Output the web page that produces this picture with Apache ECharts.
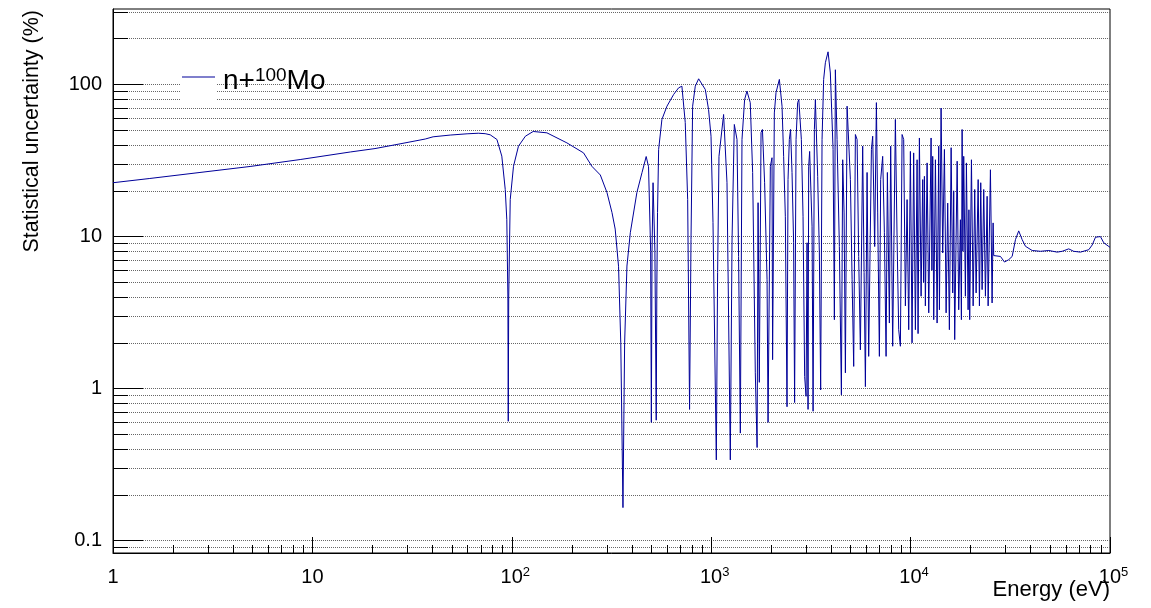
<!DOCTYPE html>
<html>
<head>
<meta charset="utf-8">
<script src="https://cdn.jsdelivr.net/npm/echarts@6/dist/echarts.min.js"></script>
<style>
  html, body { margin: 0; padding: 0; background: #fff; }
  #chart { width: 1151px; height: 608px; }
</style>
</head>
<body>
<div id="chart"></div>
<script>
// ---- data ----
const energies = [
  1, 1.53, 2.73, 4.87, 8.68, 15.5, 20.6, 27.5, 36.8, 40.3, 49.1, 59.7, 67.9, 73.5, 77.9, 84.2, 89.1, 92.7, 94.4, 95.6, 96.0, 96.5, 98.2,
  102, 108, 117, 128, 150, 189, 229, 252, 278, 300, 318, 330, 343, 352, 361, 368, 378, 393, 424, 450, 472, 485, 497, 501, 505,
  511, 522, 530, 534, 538, 545, 566, 600, 648, 686, 713, 741, 762, 779, 792, 807, 832, 865, 934, 970, 998,
  1021, 1061, 1077, 1094, 1154, 1200, 1247, 1272, 1306, 1347, 1372, 1400, 1427, 1471, 1511, 1570, 1614, 1664,
  1699, 1718, 1743, 1778, 1807, 1853, 1906, 1928, 1980, 2018, 2032, 2073, 2114, 2197, 2266, 2308, 2354, 2400,
  2428, 2465, 2500, 2543, 2590, 2620, 2664, 2713, 2750, 2832, 2888, 2942, 2990, 3025, 3060, 3082, 3117, 3205,
  3243, 3292, 3330, 3420, 3487, 3540, 3597, 3664, 3737, 3855, 3959, 4085, 4147, 4195, 4278, 4393, 4497, 4565,
  4639, 4710, 4803, 4859, 4989, 5089, 5183, 5285, 5390, 5491, 5600, 5750, 5844, 5933, 6050, 6163, 6360, 6455,
  6605, 6737, 6839, 6974, 7079, 7244, 7388, 7535, 7648, 7827, 7945, 8131, 8389, 8557, 8716, 8888, 9064, 9234,
  9341, 9417, 9603, 9784, 9977, 10170, 10360, 10570, 10780, 10900, 11070, 11290, 11500, 11620, 11730, 11860,
  12100, 12330, 12670, 12790, 12910, 13060, 13320, 13580, 13840, 13950, 14220, 14490, 14780, 15070, 15350,
  15650, 15970, 16260, 16450, 16640, 17120, 17430, 17780, 17980, 18130, 18290, 18470, 18830, 19050, 19430,
  19610, 19790, 20190, 20590, 20970, 21310, 21820, 22140, 22480, 22840, 23270, 23730, 24200, 24480, 25140,
  25630, 25930, 26110, 28230, 29560, 31060, 32310, 33570, 34850, 36260, 37670, 40700, 44810, 49320, 54330,
  57540, 62090, 65770, 71090, 78290, 81400, 84570, 89540, 93060, 98670, 100000
];
const uncertainties = [
  22.6, 24.1, 26.4, 28.9, 32.1, 36, 37.9, 40.7, 43.8, 45.3, 46.5, 47.4, 47.8, 47.5, 46.7, 43.5, 33.8, 20.4, 12.9, 4, 0.61, 4, 17.5,
  29, 39.3, 45.7, 49.1, 48.1, 41.3, 35.5, 29.0, 25.4, 19.5, 14.4, 11.2, 6.38, 2, 0.165, 2, 6.4, 10.6, 19.5, 26.4, 33.6, 28.8, 8, 0.6, 8,
  22.6, 8, 0.62, 5, 14.4, 37.4, 58.9, 72, 86, 95, 97.5, 56.3, 17.5, 0.73, 9.55, 72, 97.5, 109, 92.7, 68.5, 45.7,
  12.4, 0.34, 5.8, 33.7, 63.5, 22.6, 0.34, 9.5, 54.6, 43.5, 7.4, 0.51, 43.5, 79.6, 90.4, 76, 26.4, 1.27,
  0.41, 16.7, 1.1, 48.3, 50.6, 22.6, 5.2, 0.6, 29, 33, 1.55, 65, 88.6, 108, 72, 33.7, 13.6, 0.76,
  23.7, 43.5, 50.6, 26.4, 9.1, 0.81, 43.5, 76, 79.6, 43.5, 13.6, 1.2, 0.89, 9.1, 0.73, 29, 36.3, 11.7,
  0.71, 50.6, 79.6, 24.9, 7.8, 0.98, 43.5, 108, 139, 164, 119, 37.4, 2.84, 125, 43.5, 8.6, 0.91, 32,
  14.3, 1.27, 72, 74, 23.7, 5.2, 1.4, 46.9, 43.5, 7.4, 1.8, 39.3, 5.8, 1.03, 26.4, 1.63, 37.4, 45.7,
  8.6, 76, 14.3, 1.63, 23.7, 33.7, 10.6, 1.63, 26.4, 2.7, 39.3, 1.9, 58.9, 9.5, 2.44, 1.9, 46.9, 43.5,
  9.5, 3.5, 17.5, 2.44, 36.3, 2.0, 35.5, 2.44, 32, 2.3, 44.5, 4.05, 23.7, 5, 24.9, 3.5,
  30.5, 3.15, 44.5, 6, 33.7, 2.84, 32, 2.7, 39.3, 3.3, 70, 7.8, 37.4, 3.15, 16.6,
  2.44, 38.4, 4.26, 20, 2.1, 31.3, 3.3, 12.9, 2.84, 50.6, 8, 33.7, 4.05, 30.5, 3.3,
  15, 2.84, 32, 3.5, 20.4, 4.26, 23.7, 3.5, 22.6, 4.48, 20.4, 4.05, 18.4, 3.5, 27.5,
  3.66, 12.3, 7.5, 7.4, 6.8, 7.05, 7.4, 9.55, 10.9, 9.55, 8.63, 8.1, 8.0, 8.1, 7.9,
  8.0, 8.3, 8.0, 7.9, 8.2, 8.8, 9.9, 10.0, 9.1, 8.6, 8.5
];
const seriesName = 'n+100Mo';
const legendParts = ['n+', '100', 'Mo'];

const xMajorTicks = [1, 10, 100, 1000, 10000, 100000];
const xTickBase = ['1', '10', '10', '10', '10', '10'];
const xTickExp = ['', '', '2', '3', '4', '5'];
const xMinorMultipliers = [2, 3, 4, 5, 6, 7, 8, 9];
const xMinorDecades = [1, 10, 100, 1000, 10000];

const yMajorTicks = [0.1, 1, 10, 100];
const yTickLabels = ['0.1', '1', '10', '100'];
const yGridTicks = [0.09, 0.1, 0.2, 0.3, 0.4, 0.5, 0.6, 0.7, 0.8, 0.9,
  1, 2, 3, 4, 5, 6, 7, 8, 9, 10, 20, 30, 40, 50, 60, 70, 80, 90, 100, 200, 300];

const xTitle = 'Energy (eV)';
const yTitle = 'Statistical uncertainty (%)';

// ---- build ----
const xMinorTicks = [];
xMinorDecades.forEach(d => xMinorMultipliers.forEach(m => xMinorTicks.push(m * d)));
const seriesData = energies.map((e, i) => [e, uncertainties[i]]);

const FONT = 'Liberation Sans, Arial, Helvetica, sans-serif';
const LINE_COLOR = '#000099';
const X_MIN = 1, X_MAX = 100000, Y_MIN = 0.083, Y_MAX = 313.7;

const chart = echarts.init(document.getElementById('chart'), null, { renderer: 'canvas' });
chart.setOption({
  animation: false,
  backgroundColor: '#ffffff',
  grid: {
    left: 113, top: 9, width: 997, height: 544,
    show: true, borderColor: '#000', borderWidth: 1,
    containLabel: false, outerBoundsMode: 'none'
  },
  legend: {
    show: true,
    left: 182, top: 66,
    padding: 0,
    z: 10,
    itemWidth: 33, itemHeight: 1,
    data: [{ name: seriesName, icon: 'rect', itemStyle: { color: LINE_COLOR } }],
    formatter: () => `{a|${legendParts[0]}}{s|${legendParts[1]}}{a|${legendParts[2]}}`,
    textStyle: {
      color: '#000',
      padding: [8, 0, 0, 3],
      rich: {
        a: { fontSize: 28, fontFamily: FONT, lineHeight: 30, color: '#000' },
        s: { fontSize: 19, fontFamily: FONT, lineHeight: 19, verticalAlign: 'top', color: '#000' }
      }
    }
  },
  xAxis: [
    {
      type: 'log', logBase: 10, min: X_MIN, max: X_MAX, position: 'bottom',
      axisLine: { show: true, lineStyle: { color: '#000', width: 1 } },
      axisTick: { show: true, inside: true, length: 16, customValues: xMajorTicks, lineStyle: { color: '#000' } },
      axisLabel: {
        show: true, margin: 13, customValues: xMajorTicks,
        formatter: (v) => {
          const i = Math.round(Math.log10(v));
          if (xTickExp[i]) return `{p|}{b|${xTickBase[i]}}{s|${xTickExp[i]}}`;
          return `{b|${xTickBase[i]}}`;
        },
        rich: {
          b: { fontSize: 20, fontFamily: FONT, lineHeight: 22, color: '#000' },
          s: { fontSize: 13, fontFamily: FONT, lineHeight: 13, verticalAlign: 'top', color: '#000' },
          p: { width: 7 }
        }
      },
      splitLine: { show: false }
    },
    {
      type: 'log', logBase: 10, min: X_MIN, max: X_MAX, position: 'bottom',
      axisLine: { show: false },
      axisTick: { show: true, inside: true, length: 8, customValues: xMinorTicks, lineStyle: { color: '#000' } },
      axisLabel: { show: false },
      splitLine: { show: false }
    }
  ],
  yAxis: [
    {
      type: 'log', logBase: 10, min: Y_MIN, max: Y_MAX, position: 'left',
      axisLine: { show: true, lineStyle: { color: '#000', width: 1 } },
      axisTick: { show: true, inside: true, length: 30, customValues: yMajorTicks, lineStyle: { color: '#000' } },
      axisLabel: {
        show: true, margin: 11, customValues: yMajorTicks,
        fontSize: 20, fontFamily: FONT, color: '#000',
        formatter: (v) => yTickLabels[Math.round(Math.log10(v)) + 1]
      },
      splitLine: { show: false }
    },
    {
      type: 'log', logBase: 10, min: Y_MIN, max: Y_MAX, position: 'left',
      axisLine: { show: false },
      axisTick: { show: true, inside: true, length: 15, customValues: yGridTicks, lineStyle: { color: '#000' } },
      axisLabel: { show: false },
      splitLine: { show: true, lineStyle: { color: '#666', width: 1, type: [1, 1] } }
    }
  ],
  graphic: [
    { type: 'rect', z: 1, shape: { x: 181, y: 60, width: 35, height: 42 }, style: { fill: '#fff' } },
    {
      type: 'text', z: 20, x: 32, y: 10, rotation: Math.PI / 2,
      style: { text: yTitle, font: '21.5px ' + FONT, fill: '#000', align: 'right', verticalAlign: 'middle', textAlign: 'right', textVerticalAlign: 'middle' }
    },
    {
      type: 'text', z: 20, x: 1110, y: 590,
      style: { text: xTitle, font: '22px ' + FONT, fill: '#000', align: 'right', verticalAlign: 'middle', textAlign: 'right', textVerticalAlign: 'middle' }
    }
  ],
  series: [
    {
      name: seriesName,
      type: 'line',
      xAxisIndex: 0, yAxisIndex: 0,
      data: seriesData,
      showSymbol: false, symbol: 'none',
      sampling: false,
      clip: true,
      lineStyle: { color: LINE_COLOR, width: 1 },
      itemStyle: { color: LINE_COLOR },
      z: 5
    }
  ]
});
</script>
</body>
</html>
